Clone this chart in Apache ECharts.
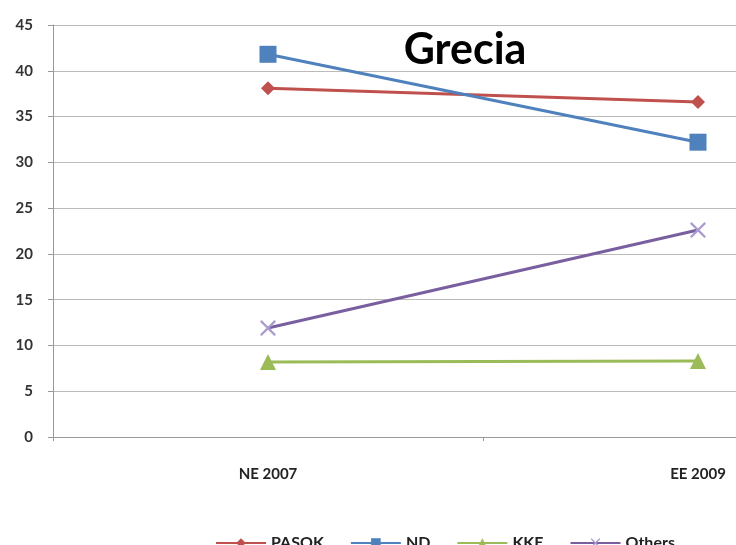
<!DOCTYPE html>
<html>
<head>
<meta charset="utf-8">
<script src="https://cdn.jsdelivr.net/npm/echarts@6/dist/echarts.min.js"></script>
<style>
  html, body { margin: 0; padding: 0; background: #fff; }
  #chart { width: 736px; height: 545px; }
</style>
</head>
<body>
<div id="chart"></div>
<script>
// categorie e valori
const categories = ['NE 2007', 'EE 2009']
const pasok = [38.1, 36.6]
const nd = [41.8, 32.2]
const kke = [8.2, 8.3]
const others = [11.9, 22.6]

const crossPath = 'path://M0,1L1,0L5,4L9,0L10,1L6,5L10,9L9,10L5,6L1,10L0,9L4,5Z'

const chart = echarts.init(document.getElementById('chart'))

function lineSeries(name, data, color, symbol, size, symColor) {
  return {
    name: name,
    type: 'line',
    data: data,
    symbol: symbol,
    symbolSize: size,
    lineStyle: { width: 3, color: color },
    itemStyle: { color: symColor || color },
    emphasis: { disabled: true }
  }
}

chart.setOption({
  animation: false,
  textStyle: { fontFamily: 'Lato' },
  title: {
    text: 'Grecia',
    left: 460,
    top: 24,
    textAlign: 'center',
    textStyle: { fontSize: 43, fontWeight: 'bold', color: '#000', fontFamily: 'Lato' }
  },
  legend: {
    top: 530,
    left: 210,
    itemWidth: 50,
    itemHeight: 12,
    itemGap: 26,
    textStyle: { fontSize: 16, fontWeight: 'bold', color: '#222' },
    data: ['PASOK', 'ND', 'KKE', 'Others']
  },
  // la seconda metà dell'area del grafico esce dal riquadro, come nell'originale
  grid: { left: 53, top: 25, right: -177, bottom: 108, outerBoundsMode: 'none' },
  xAxis: {
    type: 'category',
    data: categories,
    boundaryGap: true,
    axisLine: { lineStyle: { color: '#999' } },
    axisTick: { show: true, length: 4, lineStyle: { color: '#999' } },
    axisLabel: { margin: 30, fontSize: 15, fontWeight: 'bold', color: '#222' }
  },
  yAxis: {
    type: 'value',
    min: 0,
    max: 45,
    interval: 5,
    axisLine: { show: true, lineStyle: { color: '#999' } },
    axisTick: { show: true, length: 5, lineStyle: { color: '#999' } },
    axisLabel: { margin: 20, fontSize: 15, fontWeight: 'bold', color: '#333' },
    splitLine: { lineStyle: { color: '#bbb', width: 1 } }
  },
  series: [
    lineSeries('PASOK', pasok, '#C0504D', 'diamond', 14),
    lineSeries('ND', nd, '#4F81BD', 'rect', 17),
    lineSeries('KKE', kke, '#9BBB59', 'triangle', 16),
    lineSeries('Others', others, '#7A5FA0', crossPath, 16, '#A99BD0')
  ]
})
</script>
</body>
</html>
